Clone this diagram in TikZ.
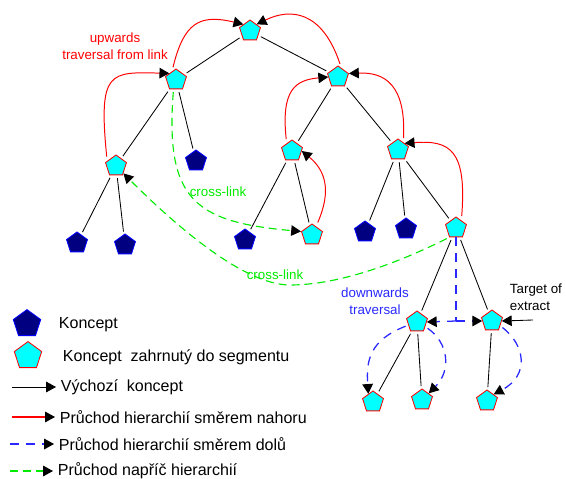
\documentclass[tikz,border=0pt]{standalone}
\usepackage{fontspec}
\setmainfont{Liberation Sans}
\usetikzlibrary{shapes.geometric,arrows.meta,positioning,calc}

\definecolor{navyfill}{RGB}{0,0,128}
\definecolor{konblue}{RGB}{0,0,255}
\definecolor{segcyan}{RGB}{0,255,255}
\definecolor{upred}{RGB}{255,0,0}
\definecolor{downblue}{RGB}{40,40,255}
\definecolor{crossgreen}{RGB}{0,235,0}

\begin{document}
\begin{tikzpicture}[x=0.025cm, y=-0.025cm,
    kon/.style={regular polygon, regular polygon sides=5, minimum size=0.55cm, inner sep=0pt, draw=konblue, fill=navyfill, line width=0.6pt},
    seg/.style={kon, draw=upred, fill=segcyan},
    treeline/.style={shorten <=2pt, shorten >=2pt, line width=0.6pt},
    arr/.style={-{Triangle[length=7pt, width=7.5pt, color=black]}},
    uptrav/.style={arr, draw=upred, line width=0.7pt, shorten <=3pt},
    downline/.style={draw=downblue, line width=0.9pt, dash pattern=on 6.4pt off 5pt},
    downtrav/.style={arr, downline, shorten <=2pt},
    crosstrav/.style={arr, draw=crossgreen, line width=0.8pt, dash pattern=on 5.7pt off 3.5pt, shorten <=2pt},
    lbl/.style={font=\fontsize{9.5pt}{12pt}\selectfont, align=center},
    legtxt/.style={font=\fontsize{11.4pt}{13.7pt}\selectfont, anchor=west}
  ]
  \useasboundingbox (0,0) rectangle (566,479);

  % concept tree
  \node[seg] (root) at (250,31) {};
  \node[seg] (a) at (176,80) {};
  \node[seg] (b) at (338,77) {};
  \node[seg] (a1) at (116,166) {};
  \node[kon] (a2) at (196,161) {};
  \node[kon] (a1l) at (77,243) {};
  \node[kon] (a1r) at (125,245) {};
  \node[seg] (b1) at (292,151) {};
  \node[seg] (b2) at (398,150) {};
  \node[kon] (b1l) at (245,240) {};
  \node[seg] (b1r) at (312,235) {};
  \node[kon] (b2l) at (365,232) {};
  \node[kon] (b2m) at (406,229) {};
  \node[seg] (b2r) at (456,228) {};
  \node[seg] (c1) at (417,322) {};
  \node[seg] (c2) at (492,321) {};
  \node[seg] (c1l) at (373,402) {};
  \node[seg] (c1r) at (422,400) {};
  \node[seg] (c2l) at (487,401) {};

  \foreach \p/\c in {root/a, root/b, a/a1, a/a2, a1/a1l, a1/a1r, b/b1, b/b2, b1/b1l, b1/b1r,
                     b2/b2l, b2/b2m, b2/b2r, b2r/c1, b2r/c2, c1/c1l, c1/c1r, c2/c2l}
    \draw[treeline] (\p) -- (\c);

  % upwards
  \draw[uptrav] (a1.150) .. controls (98,70) and (110,72) .. (a.north west);
  \draw[uptrav] (a.115) .. controls (184,22) and (200,14) .. (root.north west);
  \draw[uptrav] (b.70) .. controls (322,10) and (290,8) .. (root.north east);
  \draw[uptrav] (b1.125) .. controls (281,90) and (295,80) .. (b.west);
  \draw[uptrav] (b2.55) .. controls (406,85) and (385,72) .. (b.corner 5);
  \draw[uptrav] (b1r.65) .. controls (332,190) and (325,170) .. (b1.east);
  \draw[uptrav] (b2r.55) .. controls (467,150) and (450,140) .. (b2.north east);
  \node[lbl, text=upred] (uplbl) at (115,46) {upwards\\traversal from link};

  % cross-links
  \coordinate (bend) at (290,285);
  \draw[crosstrav] (a.255) .. controls (165,200) and (195,222) .. (b1r.corner 2);
  \draw[crosstrav] (b2r.corner 3) .. controls (400,262) and (340,285) .. (bend)
                   .. controls (240,285) and (165,215) .. (a1.south east);
  \node[lbl, text=crossgreen] (cross1) at (218,192) {cross-link};
  \node[lbl, text=crossgreen] (cross2) at (275,275) {cross-link};

  % downwards
  \coordinate (junc) at (456,321);
  \draw[downline] (b2r.south) -- (junc);
  \draw[downtrav, shorten <=0pt] (junc) -- (c1.east);
  \draw[downtrav, shorten <=0pt] (junc) -- (c2.west);
  \draw[downtrav] (c1.200) .. controls (370,340) and (366,360) .. (c1l.120);
  \draw[downtrav] (c1.-30) .. controls (448,342) and (452,370) .. (c1r.north east);
  \draw[downtrav] (c2.-30) .. controls (525,345) and (530,375) .. (c2l.north east);
  \node[lbl, text=downblue] (dnlbl) at (375,301) {downwards\\traversal};

  % target
  \coordinate (tgt) at (533,320);
  \draw[arr, line width=0.6pt] (tgt) -- (c2.east);
  \node[lbl, align=left, anchor=west] (tgtlbl) at (505,297) {Target of\\extract};

  % legend
  \node[kon, minimum size=0.72cm] (lkon) at (27,324) {};
  \node[legtxt] (lkontxt) at (54,325) {Koncept};
  \node[seg, minimum size=0.72cm] (lseg) at (28,356) {};
  \node[legtxt] (lsegtxt) at (58,357) {Koncept\ \ zahrnutý do segmentu};
  \coordinate (l1) at (12,387);
  \node[legtxt] (l1txt) at (56,387) {Výchozí\ \ koncept};
  \draw[arr, line width=0.6pt] (l1) -- (l1txt.west);
  \coordinate (l2) at (12,417);
  \node[legtxt] (l2txt) at (55,417) {Průchod hierarchií směrem nahoru};
  \draw[uptrav, line width=0.8pt, shorten <=0pt] (l2) -- (l2txt.west);
  \coordinate (l3) at (10,444);
  \node[legtxt] (l3txt) at (54,444) {Průchod hierarchií směrem dolů};
  \draw[downtrav, shorten <=0pt] (l3) -- (l3txt.west);
  \coordinate (l4) at (10,471);
  \node[legtxt] (l4txt) at (53,471) {Průchod napříč hierarchií};
  \draw[crosstrav, shorten <=0pt] (l4) -- (l4txt.west);
\end{tikzpicture}
\end{document}
